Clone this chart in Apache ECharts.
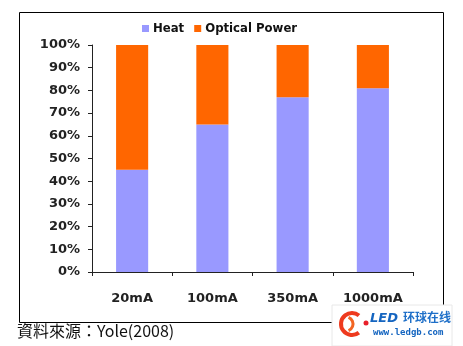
<!DOCTYPE html>
<html><head><meta charset="utf-8">
<script src="https://cdn.jsdelivr.net/npm/echarts@6/dist/echarts.min.js"></script>
<style>html,body{margin:0;padding:0;background:#fff}#c{width:463px;height:346px}</style>
</head><body><div id="c"></div>
<script>
var categories = ['20mA', '100mA', '350mA', '1000mA'];
var heat = [45, 65, 77, 81];
var optical = [55, 35, 23, 19];
var yTicks = [0, 10, 20, 30, 40, 50, 60, 70, 80, 90, 100];

var chart = echarts.init(document.getElementById('c'), null, {renderer: 'canvas'});
var lblFont = {fontFamily: 'DejaVu Sans', fontWeight: 'bold', fontSize: 13, color: '#222'};
chart.setOption({
  animation: false,
  legend: {
    data: ['Heat', 'Optical Power'], top: 17, left: 137,
    itemWidth: 7, itemHeight: 7, itemGap: 10, icon: 'rect',
    textStyle: {fontFamily: 'DejaVu Sans Condensed', fontWeight: 'bold', fontSize: 13, color: '#111', padding: [0, 0, 0, -1]}
  },
  grid: {left: 92, right: 50, top: 45, bottom: 74},
  xAxis: {
    type: 'category', data: categories,
    axisLine: {lineStyle: {color: '#222', width: 1}},
    axisTick: {show: true, inside: false, length: 4, lineStyle: {color: '#222'}},
    axisLabel: Object.assign({margin: 20}, lblFont)
  },
  yAxis: {
    type: 'value', min: 0, max: 100, interval: 10,
    axisLine: {show: true, lineStyle: {color: '#222', width: 1}},
    axisTick: {show: true, length: 4, lineStyle: {color: '#222'}},
    splitLine: {show: false},
    axisLabel: Object.assign({margin: 12, formatter: function (v) { return yTicks.indexOf(v) >= 0 ? v + '%' : ''; }}, lblFont)
  },
  series: [
    {name: 'Heat', type: 'bar', stack: 's', data: heat, barWidth: '40%',
     itemStyle: {color: '#9999FF'}},
    {name: 'Optical Power', type: 'bar', stack: 's', data: optical, barWidth: '40%',
     itemStyle: {color: '#FF6600'}}
  ],
  graphic: [
    {type: 'rect', shape: {x: 19.5, y: 12.5, width: 424, height: 310}, style: {fill: 'none', stroke: '#000', lineWidth: 1}, z: -1},
    {type: 'text', left: 17, top: 323, style: {text: '資料來源：Yole(2008)', font: '16px "Noto Sans CJK TC"', fill: '#111'}},
    {type: 'rect', shape: {x: 332, y: 305, width: 120, height: 41}, style: {fill: '#fff', stroke: '#e8e8e8', lineWidth: 1}, z: 10},
    {type: 'arc', shape: {cx: 352, cy: 324, r: 11, startAngle: 0.9, endAngle: 5.4}, style: {stroke: '#ee3a1e', lineWidth: 4, fill: 'none'}, z: 11},
    {type: 'arc', shape: {cx: 346, cy: 324, r: 7, startAngle: -1.2, endAngle: 1.2}, style: {stroke: '#f26522', lineWidth: 3, fill: 'none'}, z: 11},
    {type: 'circle', shape: {cx: 366, cy: 323, r: 2.5}, style: {fill: '#e8202a'}, z: 11},
    {type: 'text', left: 370, top: 312, style: {text: 'LED', font: 'italic bold 13px "DejaVu Sans"', fill: '#1565c0'}, z: 11},
    {type: 'text', left: 403, top: 311, style: {text: '环球在线', font: 'bold 12px "Noto Sans CJK SC"', fill: '#1e6fc8'}, z: 11},
    {type: 'text', left: 373, top: 328, style: {text: 'www.ledgb.com', font: 'bold 9px "DejaVu Sans Mono"', fill: '#1565c0'}, z: 11}
  ]
});
</script></body></html>
